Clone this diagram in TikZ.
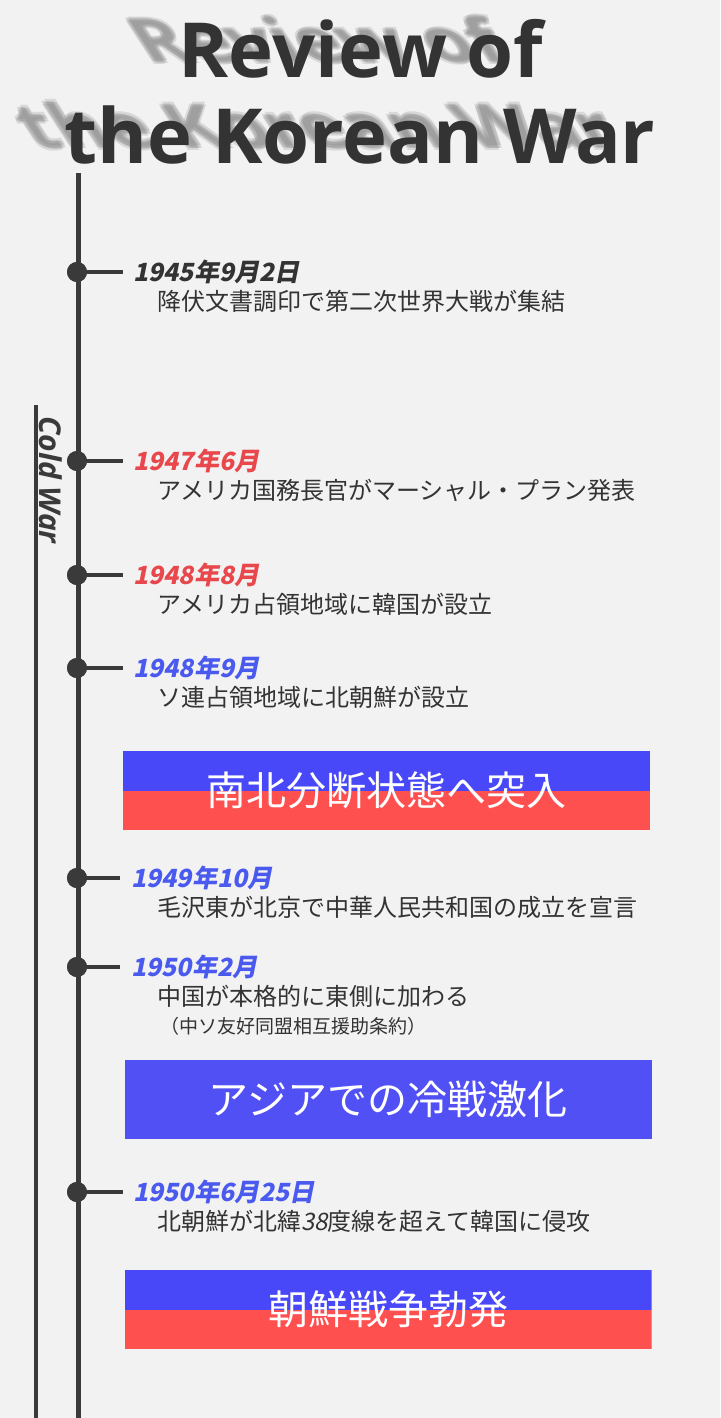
\documentclass[tikz,border=0pt]{standalone}
\usepackage{fontspec}
\setmainfont{Open Sans}
\newfontfamily\titlefont{Open Sans}
\newfontfamily\jp{Noto Sans CJK JP}
\newfontfamily\jpslant{Noto Sans CJK JP}[FakeSlant=0.2]
\definecolor{bg}{HTML}{F2F2F2}
\definecolor{tl}{HTML}{3A3A3A}
\definecolor{txt}{HTML}{333333}
\definecolor{shade}{HTML}{808080}
\definecolor{dred}{HTML}{E8474C}
\definecolor{dblue}{HTML}{4A5AEE}
\definecolor{bblue}{HTML}{4848F8}
\definecolor{bred}{HTML}{FF5050}
\definecolor{bsolid}{HTML}{5050F5}
\tikzset{
  dotnode/.style={circle, fill=tl, inner sep=0pt, minimum size=20pt},
  branch/.style={line width=4pt, tl},
  datelbl/.style={anchor=west, inner sep=0pt, font=\jpslant\bfseries\fontsize{25}{29}\selectfont},
  desclbl/.style={anchor=west, inner sep=0pt, text=txt, font=\jp\fontsize{24}{28}\selectfont},
  notelbl/.style={anchor=west, inner sep=0pt, text=txt, font=\jp\fontsize{19}{22}\selectfont},
  bannerbase/.style={minimum width=527pt, minimum height=79pt, inner sep=0pt, text=white,
     font=\jp\fontsize{40}{46}\selectfont},
  bannertwo/.style={bannerbase, path picture={
     \fill[bblue] (path picture bounding box.north west) rectangle (path picture bounding box.east);
     \fill[bred] (path picture bounding box.west) rectangle (path picture bounding box.south east);}},
  bannerone/.style={bannerbase, fill=bsolid},
  titletext/.style={anchor=base, inner sep=0pt, font=\titlefont\bfseries\fontsize{76}{80}\selectfont},
  shadowtext/.style={titletext, text=shade, opacity=0.22, transform shape},
}
\begin{document}
\begin{tikzpicture}[x=1pt,y=-1pt]
\fill[bg] (0,0) rectangle (720,1418);
\useasboundingbox (0,0) rectangle (720,1418);

% title shadows (soft, slanted)
\foreach \dx/\dy in {0/0,2/1,-2/-1,1/-2,-1/2}{
  \begin{scope}[shift={(331+\dx,63+\dy)}, xslant=-0.65, yscale=0.8]
    \node[shadowtext] at (0,0) {Review of};
  \end{scope}
  \begin{scope}[shift={(330+\dx,148+\dy)}, xslant=-0.65, yscale=0.8]
    \node[shadowtext] at (0,0) {the Korean War};
  \end{scope}
}
% title
\node[titletext, text=txt] (title1) at (361,78) {Review of};
\node[titletext, text=txt] (title2) at (360,163) {the Korean War};

% main timeline and cold war line
\coordinate (tltop) at (78,173);
\coordinate (tlbot) at (78,1418);
\draw[line width=5pt, tl] (tltop) -- (tlbot);
\coordinate (cwtop) at (36,405);
\coordinate (cwbot) at (36,1418);
\draw[line width=4pt, tl] (cwtop) -- (cwbot);
\node[rotate=-90, inner sep=0pt, text=tl, font=\titlefont\bfseries\itshape\fontsize{30}{34}\selectfont] (coldwar) at (51,480) {Cold War};

% events
\newcommand{\tlevent}[7]{% name, y, branch end x, date x, colour, date, description
  \coordinate (#1end) at (#3,#2);
  \node[dotnode] (#1dot) at (77,#2) {};
  \draw[branch] (#1dot.center) -- (#1end);
  \node[dotnode] at (#1dot) {};
  \node[datelbl, text=#5] (#1date) at (#4,#2) {#6};
  \node[desclbl] (#1desc) at (157,#2+29) {#7};
}
\tlevent{ea}{272}{123}{133}{txt}{1945年9月2日}{降伏文書調印で第二次世界大戦が集結}
\tlevent{eb}{461}{123}{133}{dred}{1947年6月}{アメリカ国務長官がマーシャル・プラン発表}
\tlevent{ec}{575}{123}{133}{dred}{1948年8月}{アメリカ占領地域に韓国が設立}
\tlevent{ed}{668}{123}{133}{dblue}{1948年9月}{ソ連占領地域に北朝鮮が設立}
\tlevent{ee}{878}{120}{131}{dblue}{1949年10月}{毛沢東が北京で中華人民共和国の成立を宣言}
\tlevent{ef}{967}{120}{131}{dblue}{1950年2月}{中国が本格的に東側に加わる}
\node[notelbl] (efnote) at (160,1026) {（中ソ友好同盟相互援助条約）};
\tlevent{eg}{1192}{123}{133}{dblue}{1950年6月25日}{北朝鮮が北緯{\jpslant 38}度線を超えて韓国に侵攻}

% banners
\node[bannertwo] (ban1) at (386.5,790.5) {南北分断状態へ突入};
\node[bannerone] (ban2) at (388,1099.5) {アジアでの冷戦激化};
\node[bannertwo] (ban3) at (388,1309.5) {朝鮮戦争勃発};
\end{tikzpicture}
\end{document}
